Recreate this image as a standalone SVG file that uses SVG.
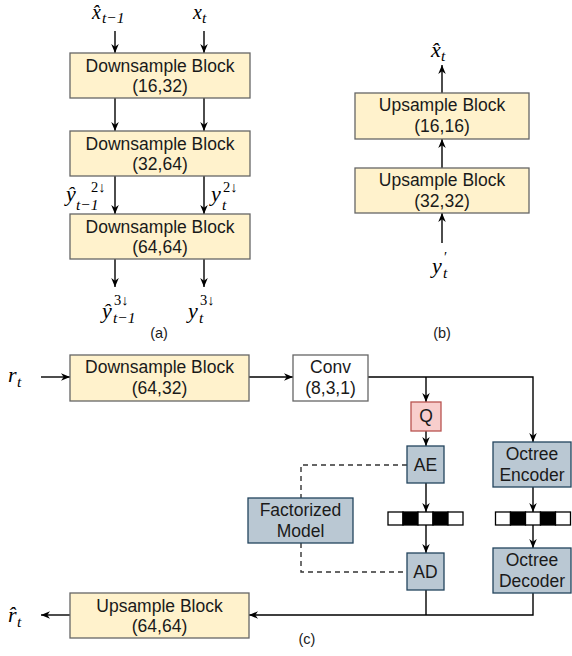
<svg xmlns="http://www.w3.org/2000/svg" width="572" height="656" viewBox="0 0 572 656">
<defs>
<marker id="ah" viewBox="0 0 10 10" refX="10" refY="5" markerWidth="9" markerHeight="9" markerUnits="userSpaceOnUse" orient="auto">
<path d="M0,0.8 L10,5 L0,9.2 L3,5 Z" fill="#000"/>
</marker>
<style>
.blk{fill:#fff2cc;stroke:#666666;stroke-width:1.3}
.wht{fill:#ffffff;stroke:#666666;stroke-width:1.3}
.red{fill:#f8cecc;stroke:#b85450;stroke-width:1.3}
.blu{fill:#bac8d3;stroke:#23445d;stroke-width:1.3}
.t{font-family:"Liberation Sans",Arial,sans-serif;font-size:17.5px;fill:#1a1a1a;text-anchor:middle}
.cap{font-family:"Liberation Sans",Arial,sans-serif;font-size:14.5px;fill:#1a1a1a;text-anchor:middle}
.m{font-family:"Liberation Serif","Times New Roman",serif;font-style:italic;font-size:22px;fill:#000}
.s{font-family:"Liberation Serif","Times New Roman",serif;font-style:italic;font-size:15.5px;fill:#000}
.su{font-family:"Liberation Serif","DejaVu Serif",serif;font-size:14.5px;fill:#000}
.c{fill:none;stroke:#000;stroke-width:1.4}
.a{fill:none;stroke:#000;stroke-width:1.4;marker-end:url(#ah)}
.d{fill:none;stroke:#333;stroke-width:1.4;stroke-dasharray:5,4}
</style>
</defs>

<g id="connectors">
<path class="a" d="M115,31 V53"/>
<path class="a" d="M204,31 V53"/>
<path class="a" d="M115,98 V131"/>
<path class="a" d="M204,98 V131"/>
<path class="a" d="M115,176 V214"/>
<path class="a" d="M204,176 V214"/>
<path class="a" d="M115,259 V287"/>
<path class="a" d="M204,259 V287"/>
<path class="a" d="M442,93 V65"/>
<path class="a" d="M442,168 V139"/>
<path class="a" d="M442,243 V213"/>
<path class="a" d="M41,377 H70"/>
<path class="a" d="M249,377 H293"/>
<path class="a" d="M368,377 H533 V442"/>
<path class="a" d="M426,377 V402"/>
<path class="a" d="M426,431 V446"/>
<path class="a" d="M426,483 V512"/>
<path class="a" d="M426,525 V553"/>
<path class="a" d="M533,487 V512"/>
<path class="a" d="M533,525 V548"/>
<path class="d" d="M407,465 H301 V498"/>
<path class="d" d="M301,543 V572 H407"/>
<path class="c" d="M426,590 V615"/>
<path class="a" d="M533,593 V615 H249"/>
<path class="a" d="M70,615 H41"/>
</g>

<g id="ds1"><rect class="blk" x="70" y="53" width="180" height="45"/><text class="t" x="160" y="72">Downsample Block</text><text class="t" x="160" y="92">(16,32)</text></g>
<g id="ds2"><rect class="blk" x="70" y="131" width="180" height="45"/><text class="t" x="160" y="150">Downsample Block</text><text class="t" x="160" y="170">(32,64)</text></g>
<g id="ds3"><rect class="blk" x="70" y="214" width="180" height="45"/><text class="t" x="160" y="233">Downsample Block</text><text class="t" x="160" y="253">(64,64)</text></g>

<g id="us1"><rect class="blk" x="355" y="93" width="174" height="46"/><text class="t" x="442" y="111">Upsample Block</text><text class="t" x="442" y="132">(16,16)</text></g>
<g id="us2"><rect class="blk" x="355" y="168" width="174" height="45"/><text class="t" x="442" y="186">Upsample Block</text><text class="t" x="442" y="207">(32,32)</text></g>

<g id="ds4"><rect class="blk" x="70" y="355" width="179" height="46"/><text class="t" x="159.5" y="373">Downsample Block</text><text class="t" x="159.5" y="394">(64,32)</text></g>
<g id="conv"><rect class="wht" x="293" y="355" width="75" height="46"/><text class="t" x="330.5" y="373">Conv</text><text class="t" x="330.5" y="394">(8,3,1)</text></g>
<g id="q"><rect class="red" x="411" y="402" width="30" height="29"/><text class="t" x="426" y="422">Q</text></g>
<g id="ae"><rect class="blu" x="407" y="446" width="37" height="37"/><text class="t" x="425.5" y="471">AE</text></g>
<g id="ad"><rect class="blu" x="407" y="553" width="37" height="37"/><text class="t" x="425.5" y="578">AD</text></g>
<g id="oenc"><rect class="blu" x="493" y="442" width="78" height="45"/><text class="t" x="532" y="460">Octree</text><text class="t" x="532" y="481">Encoder</text></g>
<g id="odec"><rect class="blu" x="493" y="548" width="78" height="45"/><text class="t" x="532" y="566">Octree</text><text class="t" x="532" y="587">Decoder</text></g>
<g id="fm"><rect class="blu" x="248" y="498" width="105" height="45"/><text class="t" x="300.5" y="516">Factorized</text><text class="t" x="300.5" y="537">Model</text></g>
<g id="us3"><rect class="blk" x="70" y="593" width="179" height="45"/><text class="t" x="159.5" y="612">Upsample Block</text><text class="t" x="159.5" y="632">(64,64)</text></g>

<g id="bits1" stroke="#000" stroke-width="1.3">
<rect x="388" y="512" width="15" height="13" fill="#fff"/><rect x="403" y="512" width="15" height="13" fill="#000"/><rect x="418" y="512" width="15" height="13" fill="#fff"/><rect x="433" y="512" width="15" height="13" fill="#000"/><rect x="448" y="512" width="15" height="13" fill="#fff"/>
</g>
<g id="bits2" stroke="#000" stroke-width="1.3">
<rect x="495.5" y="512" width="15" height="13" fill="#fff"/><rect x="510.5" y="512" width="15" height="13" fill="#000"/><rect x="525.5" y="512" width="15" height="13" fill="#fff"/><rect x="540.5" y="512" width="15" height="13" fill="#000"/><rect x="555.5" y="512" width="15" height="13" fill="#fff"/>
</g>

<g id="labels">
<text class="m" x="92" y="19" style="font-size:20px">x̂</text><text class="s" x="102" y="23">t−1</text>
<text class="m" x="193" y="19" style="font-size:20px">x</text><text class="s" x="202" y="23">t</text>
<text class="m" x="66" y="201">ŷ</text><text class="su" x="91" y="192">2↓</text><text class="s" x="76" y="210">t−1</text>
<text class="m" x="211" y="201">y</text><text class="su" x="223" y="192">2↓</text><text class="s" x="222" y="210">t</text>
<text class="m" x="102" y="318">ŷ</text><text class="su" x="114" y="305">3↓</text><text class="s" x="113" y="323">t−1</text>
<text class="m" x="188" y="318">y</text><text class="su" x="200" y="305">3↓</text><text class="s" x="199" y="323">t</text>
<text class="m" x="431" y="57">x̂</text><text class="s" x="441" y="61">t</text>
<text class="m" x="432" y="273">y</text><text class="su" x="444" y="262">′</text><text class="s" x="443" y="278">t</text>
<text class="m" x="8" y="382">r</text><text class="s" x="17" y="387">t</text>
<text class="m" x="8" y="622">r̂</text><text class="s" x="17" y="627">t</text>
<text class="cap" x="159" y="338">(a)</text>
<text class="cap" x="442" y="338">(b)</text>
<text class="cap" x="307" y="644">(c)</text>
</g>
</svg>
